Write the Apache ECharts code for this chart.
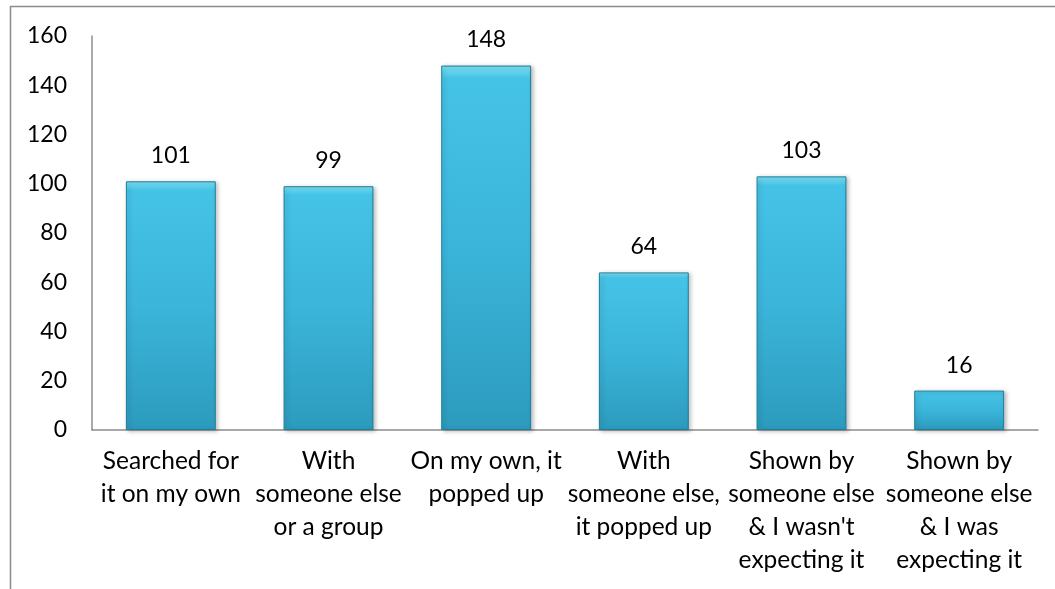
<!DOCTYPE html>
<html><head><meta charset="utf-8">
<script src="https://cdn.jsdelivr.net/npm/echarts@6/dist/echarts.min.js"></script>
<style>html,body{margin:0;padding:0;background:#fff}#c{width:1055px;height:589px}</style>
</head><body><div id="c"></div>
<script>
var categories = ["Searched for\nit on my own","With\nsomeone else\nor a group","On my own, it\npopped up","With\nsomeone else,\nit popped up","Shown by\nsomeone else\n& I wasn't\nexpecting it","Shown by\nsomeone else\n& I was\nexpecting it"];
var values = [101, 99, 148, 64, 103, 16];
var yTicks = [0, 20, 40, 60, 80, 100, 120, 140, 160];

var FONT = 'Lato';
var chart = echarts.init(document.getElementById('c'));
chart.setOption({
  animation: false,
  backgroundColor: '#fff',
  grid: {left: 92, right: 17, top: 36, bottom: 159},
  graphic: [
    {type: 'line', shape: {x1: 10, y1: 6.5, x2: 1055, y2: 6.5}, style: {stroke: '#8c8c8c', lineWidth: 1.5}},
    {type: 'line', shape: {x1: 10.5, y1: 6, x2: 10.5, y2: 589}, style: {stroke: '#8c8c8c', lineWidth: 1.5}}
  ],
  xAxis: {
    type: 'category',
    data: categories,
    axisLine: {lineStyle: {color: '#8c8c8c', width: 1.5}},
    axisTick: {show: false},
    axisLabel: {interval: 0, color: '#000', fontFamily: FONT, fontSize: 24.5, lineHeight: 33, margin: 15}
  },
  yAxis: {
    type: 'value',
    min: yTicks[0], max: yTicks[yTicks.length - 1], interval: 20,
    axisLine: {show: true, lineStyle: {color: '#8c8c8c', width: 1.5}},
    axisTick: {show: false},
    splitLine: {show: false},
    axisLabel: {color: '#000', fontFamily: FONT, fontSize: 23, margin: 25}
  },
  series: [{
    type: 'bar',
    data: values,
    barWidth: '57%',
    itemStyle: {
      color: {type: 'linear', x: 0, y: 0, x2: 0, y2: 1, colorStops: [
        {offset: 0, color: '#7fe0f4'},
        {offset: 0.035, color: '#45c3e6'},
        {offset: 0.5, color: '#3bb5da'},
        {offset: 1, color: '#2c9bbd'}
      ]},
      borderColor: '#1f7e99',
      borderWidth: 1,
      shadowColor: 'rgba(0,0,0,0.25)',
      shadowBlur: 4,
      shadowOffsetX: 2,
      shadowOffsetY: 1
    },
    label: {show: true, position: 'top', distance: 14, color: '#000', fontFamily: FONT, fontSize: 23}
  }]
});
</script>
</body></html>
